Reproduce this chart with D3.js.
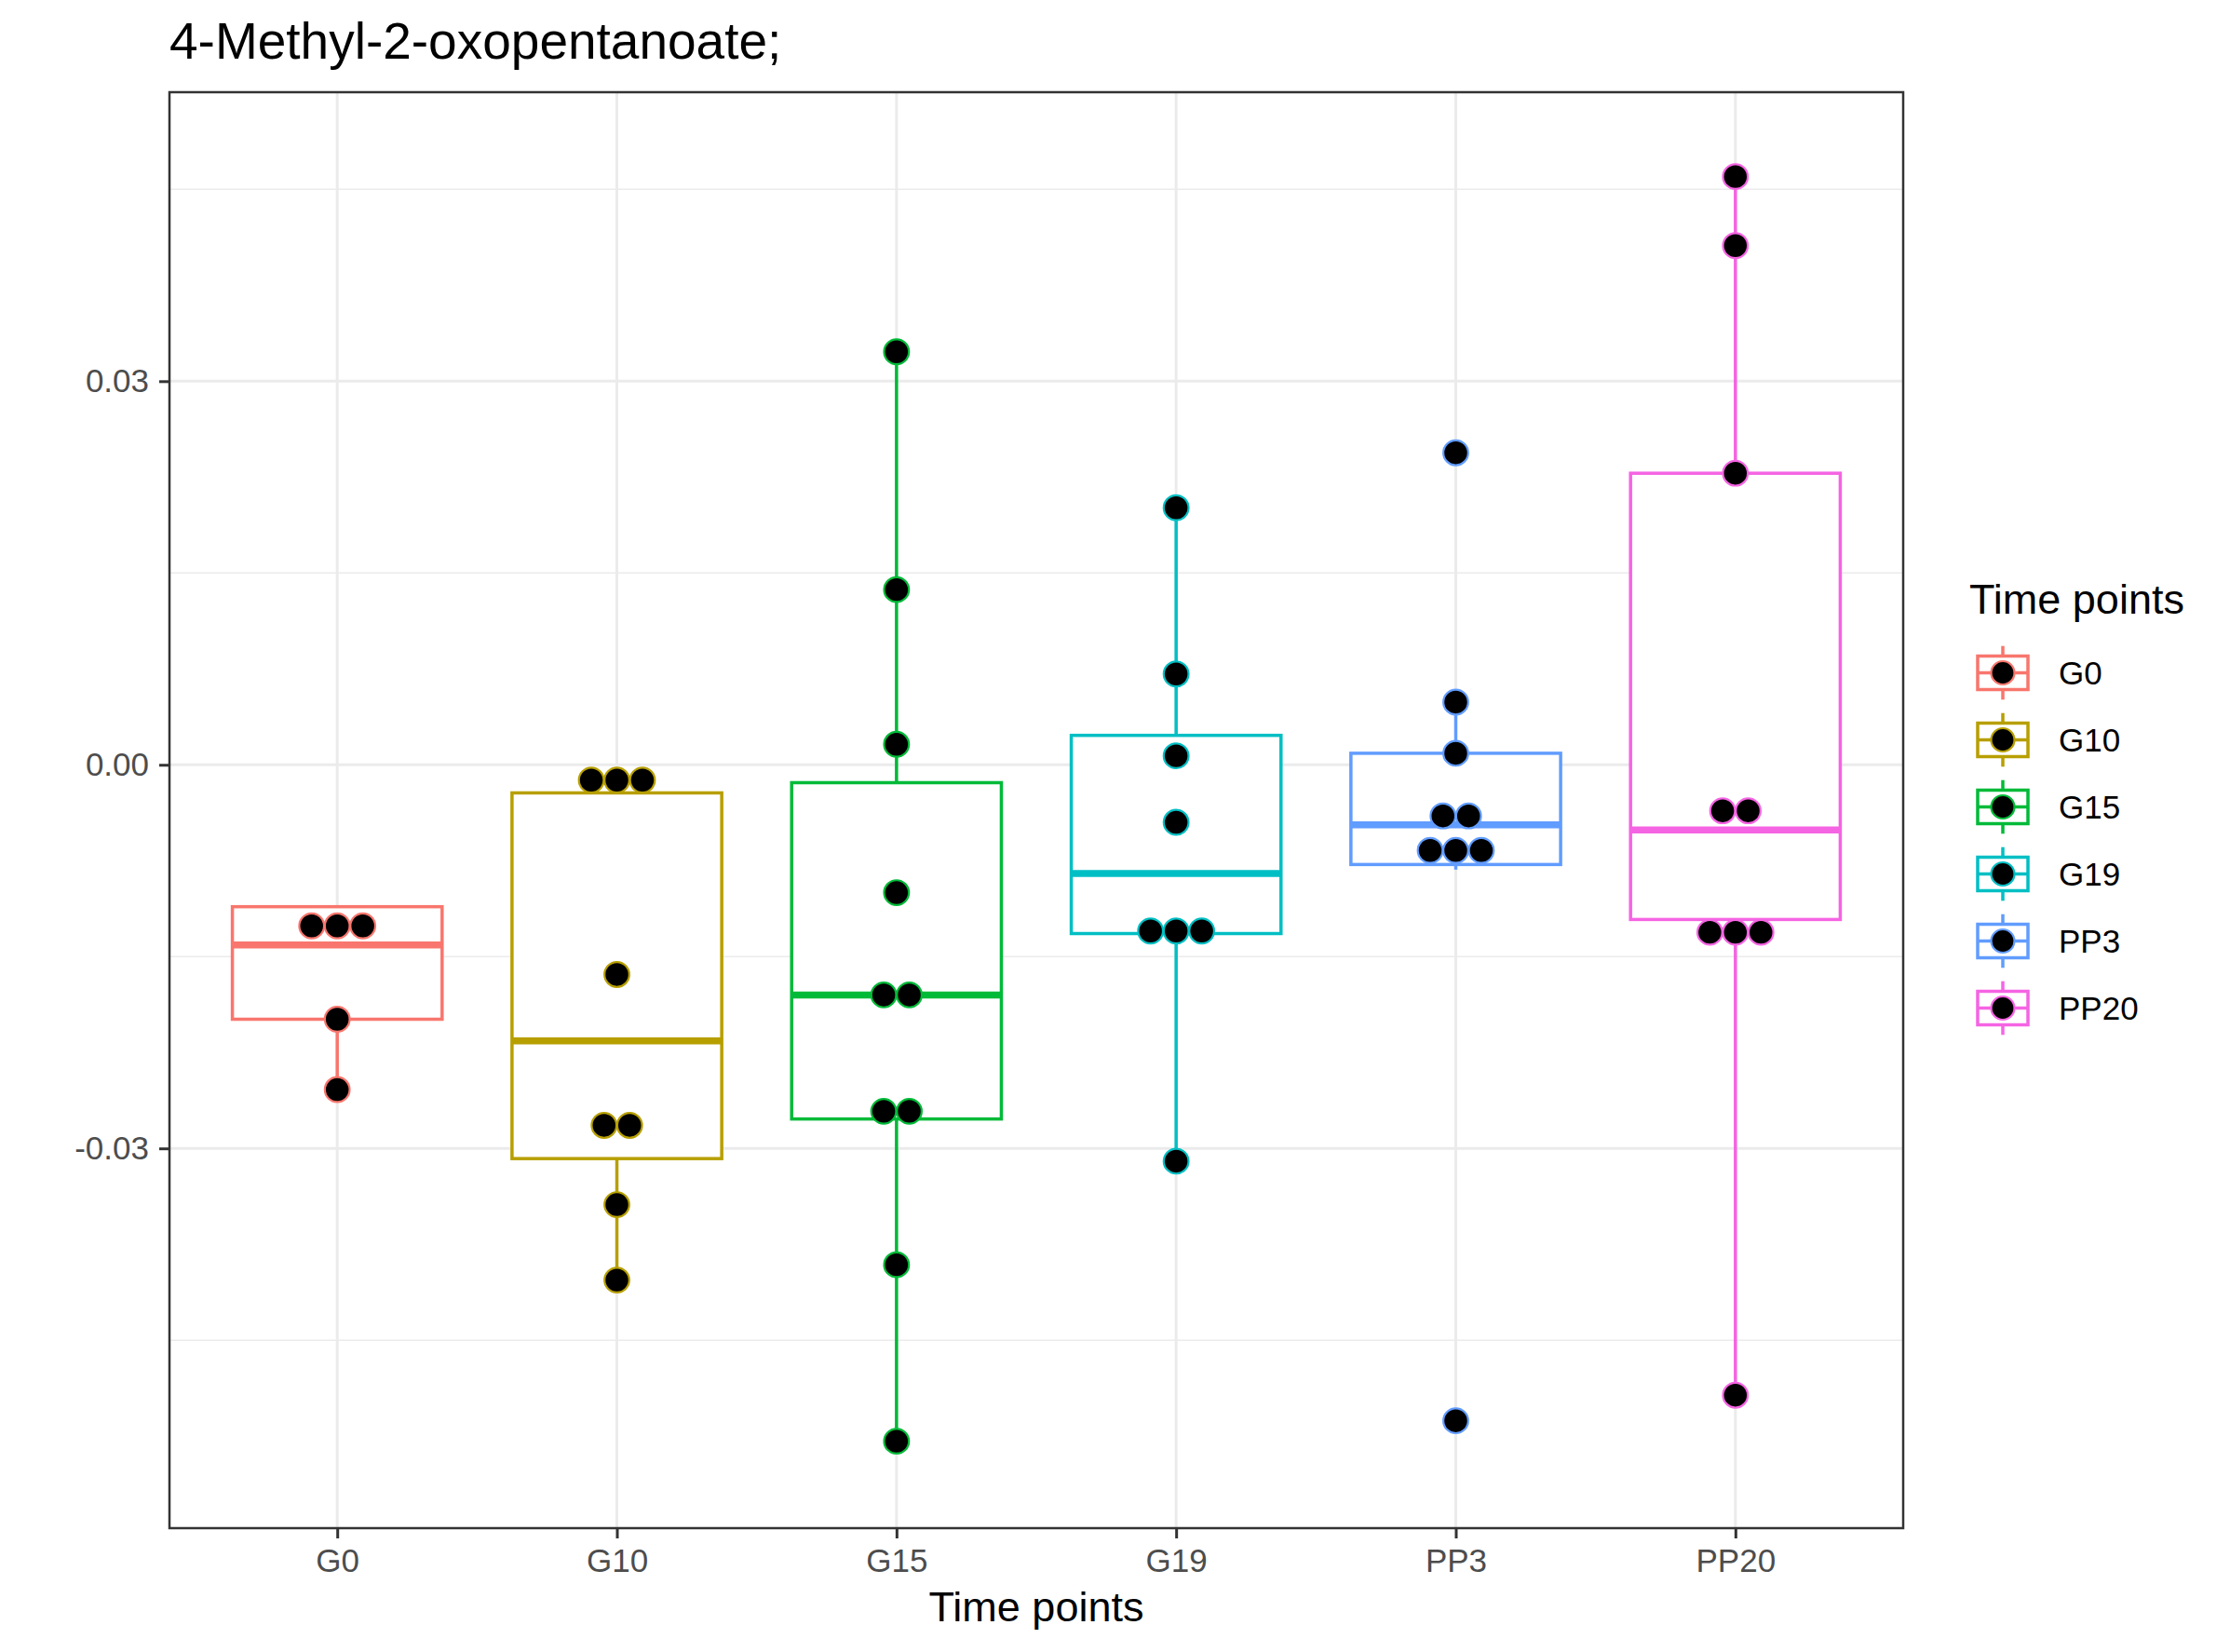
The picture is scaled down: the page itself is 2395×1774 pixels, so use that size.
<!DOCTYPE html>
<html>
<head>
<meta charset="utf-8">
<script src="https://cdn.jsdelivr.net/npm/d3@7"></script>
<style>
  html, body { margin: 0; padding: 0; background: #ffffff; }
  svg { display: block; }
  text { font-family: "Liberation Sans", Arial, Helvetica, sans-serif; }
</style>
</head>
<body>
<svg id="chart" width="2395" height="1774"></svg>
<script>
// ---------------- data ----------------
const titleText = "4-Methyl-2-oxopentanoate;";
const xTitle = "Time points";
const legendTitle = "Time points";
const categories = ["G0", "G10", "G15", "G19", "PP3", "PP20"];
const colors = ["#F8766D", "#B79F00", "#00BA38", "#00BFC4", "#619CFF", "#F564E3"];

// box plot statistics (lower whisker, Q1, median, Q3, upper whisker)
const whiskerLow  = [-0.0254, -0.0403, -0.0529, -0.0310, -0.0082, -0.0493];
const q1Values    = [-0.0199, -0.0308, -0.0277, -0.0132, -0.0078, -0.0121];
const medians     = [-0.0141, -0.0216, -0.0180, -0.0085, -0.0047, -0.0051];
const q3Values    = [-0.0111, -0.0022, -0.0014,  0.0023,  0.0009,  0.0228];
const whiskerHigh = [-0.0111, -0.0012,  0.0323,  0.0201,  0.0049,  0.0460];

// dot-plot (binned) values per group
const dotsG0   = [-0.0126, -0.0126, -0.0126, -0.0199, -0.0254];
const dotsG10  = [-0.0012, -0.0012, -0.0012, -0.0164, -0.0282, -0.0282, -0.0344, -0.0403];
const dotsG15  = [0.0323, 0.0137, 0.0016, -0.0100, -0.0180, -0.0180, -0.0271, -0.0271, -0.0391, -0.0529];
const dotsG19  = [0.0201, 0.0071, 0.0007, -0.0045, -0.0130, -0.0130, -0.0130, -0.0310];
const dotsPP3  = [0.0244, 0.0049, 0.0009, -0.0040, -0.0040, -0.0067, -0.0067, -0.0067, -0.0513];
const dotsPP20 = [0.0460, 0.0406, 0.0228, -0.0036, -0.0036, -0.0131, -0.0131, -0.0131, -0.0493];
const dotValues = [dotsG0, dotsG10, dotsG15, dotsG19, dotsPP3, dotsPP20];
const binwidth = 0.002;

const yTicks = [-0.03, 0.00, 0.03];
const yMinorTicks = [-0.045, -0.015, 0.015, 0.045];
const yDomain = [-0.0597, 0.0526];

// ---------------- layout ----------------
const W = 2395, H = 1774;
const panel = { left: 182, right: 2044, top: 99, bottom: 1641 };
const svg = d3.select("#chart");

const x = d3.scalePoint().domain(categories).range([panel.left, panel.right]).padding(0.6);
const y = d3.scaleLinear().domain(yDomain).range([panel.bottom, panel.top]);
const color = d3.scaleOrdinal().domain(categories).range(colors);
const step = x.step();
const boxW = 0.75 * step;

// background
svg.append("rect").attr("x", 0).attr("y", 0).attr("width", W).attr("height", H).attr("fill", "#fff");

// grid
const grid = svg.append("g");
grid.selectAll("line.minor").data(yMinorTicks).join("line")
  .attr("x1", panel.left).attr("x2", panel.right)
  .attr("y1", d => y(d)).attr("y2", d => y(d))
  .attr("stroke", "#EBEBEB").attr("stroke-width", 1.5);
grid.selectAll("line.majory").data(yTicks).join("line")
  .attr("x1", panel.left).attr("x2", panel.right)
  .attr("y1", d => y(d)).attr("y2", d => y(d))
  .attr("stroke", "#EBEBEB").attr("stroke-width", 3);
grid.selectAll("line.majorx").data(categories).join("line")
  .attr("x1", d => x(d)).attr("x2", d => x(d))
  .attr("y1", panel.top).attr("y2", panel.bottom)
  .attr("stroke", "#EBEBEB").attr("stroke-width", 3);

// boxplots
const boxData = categories.map((c, i) => ({
  cat: c, low: whiskerLow[i], q1: q1Values[i], med: medians[i], q3: q3Values[i], high: whiskerHigh[i]
}));
const boxes = svg.append("g").selectAll("g").data(boxData).join("g");
boxes.append("line")
  .attr("x1", d => x(d.cat)).attr("x2", d => x(d.cat))
  .attr("y1", d => y(d.q3)).attr("y2", d => y(d.high))
  .attr("stroke", d => color(d.cat)).attr("stroke-width", 3.5);
boxes.append("line")
  .attr("x1", d => x(d.cat)).attr("x2", d => x(d.cat))
  .attr("y1", d => y(d.q1)).attr("y2", d => y(d.low))
  .attr("stroke", d => color(d.cat)).attr("stroke-width", 3.5);
boxes.append("rect")
  .attr("x", d => x(d.cat) - boxW / 2).attr("width", boxW)
  .attr("y", d => y(d.q3)).attr("height", d => y(d.q1) - y(d.q3))
  .attr("fill", "#fff").attr("stroke", d => color(d.cat)).attr("stroke-width", 3.5);
boxes.append("line")
  .attr("x1", d => x(d.cat) - boxW / 2).attr("x2", d => x(d.cat) + boxW / 2)
  .attr("y1", d => y(d.med)).attr("y2", d => y(d.med))
  .attr("stroke", d => color(d.cat)).attr("stroke-width", 7.5);

// dot plot (stacked centre)
const diam = y(0) - y(binwidth);
const dotsFlat = [];
categories.forEach((c, i) => {
  const groups = d3.groups(dotValues[i], v => v);
  groups.forEach(([v, arr]) => {
    const n = arr.length;
    arr.forEach((_, k) => dotsFlat.push({ cat: c, v: v, off: (k - (n - 1) / 2) * diam }));
  });
});
svg.append("g").selectAll("circle").data(dotsFlat).join("circle")
  .attr("cx", d => x(d.cat) + d.off)
  .attr("cy", d => y(d.v))
  .attr("r", diam / 2 - 0.4)
  .attr("fill", "#000")
  .attr("stroke", d => color(d.cat))
  .attr("stroke-width", 2.2);

// panel border
svg.append("rect")
  .attr("x", panel.left).attr("y", panel.top)
  .attr("width", panel.right - panel.left).attr("height", panel.bottom - panel.top)
  .attr("fill", "none").attr("stroke", "#333333").attr("stroke-width", 2.5);

// axes
const yAxis = svg.append("g").attr("transform", `translate(${panel.left},0)`)
  .call(d3.axisLeft(y).tickValues(yTicks).tickFormat(d => d.toFixed(2)).tickSize(11).tickPadding(11));
const xAxis = svg.append("g").attr("transform", `translate(0,${panel.bottom})`)
  .call(d3.axisBottom(x).tickSize(11).tickPadding(11));
[yAxis, xAxis].forEach(a => {
  a.select(".domain").remove();
  a.selectAll(".tick line").attr("stroke", "#333333").attr("stroke-width", 3);
  a.selectAll(".tick text").attr("fill", "#4D4D4D")
    .style("font-size", "35px").style("font-family", "'Liberation Sans', Arial, sans-serif");
});

// title
svg.append("text").attr("x", panel.left).attr("y", 63)
  .attr("font-size", 55).attr("fill", "#000").text(titleText);

// axis title
svg.append("text").attr("x", (panel.left + panel.right) / 2).attr("y", 1741)
  .attr("text-anchor", "middle").attr("font-size", 45).attr("fill", "#000").text(xTitle);

// legend
const lg = svg.append("g").attr("transform", "translate(2115,0)");
lg.append("text").attr("x", 0).attr("y", 659).attr("font-size", 45).attr("fill", "#000").text(legendTitle);
const keySize = 72;
const keyTop0 = 686.5;
const keys = lg.selectAll("g.key").data(categories).join("g")
  .attr("transform", (d, i) => `translate(0,${keyTop0 + i * keySize})`);
keys.append("line")
  .attr("x1", keySize / 2).attr("x2", keySize / 2)
  .attr("y1", keySize * 0.1).attr("y2", keySize * 0.25)
  .attr("stroke", d => color(d)).attr("stroke-width", 3.5);
keys.append("line")
  .attr("x1", keySize / 2).attr("x2", keySize / 2)
  .attr("y1", keySize * 0.75).attr("y2", keySize * 0.9)
  .attr("stroke", d => color(d)).attr("stroke-width", 3.5);
keys.append("rect")
  .attr("x", keySize * 0.125).attr("width", keySize * 0.75)
  .attr("y", keySize * 0.25).attr("height", keySize * 0.5)
  .attr("fill", "#fff").attr("stroke", d => color(d)).attr("stroke-width", 3.5);
keys.append("line")
  .attr("x1", keySize * 0.125).attr("x2", keySize * 0.875)
  .attr("y1", keySize / 2).attr("y2", keySize / 2)
  .attr("stroke", d => color(d)).attr("stroke-width", 3.5);
keys.append("circle")
  .attr("cx", keySize / 2).attr("cy", keySize / 2).attr("r", 12.5)
  .attr("fill", "#000").attr("stroke", d => color(d)).attr("stroke-width", 2.2);
keys.append("text")
  .attr("x", 96).attr("y", keySize / 2 + 12.5)
  .attr("font-size", 35).attr("fill", "#000").text(d => d);
</script>
</body>
</html>
